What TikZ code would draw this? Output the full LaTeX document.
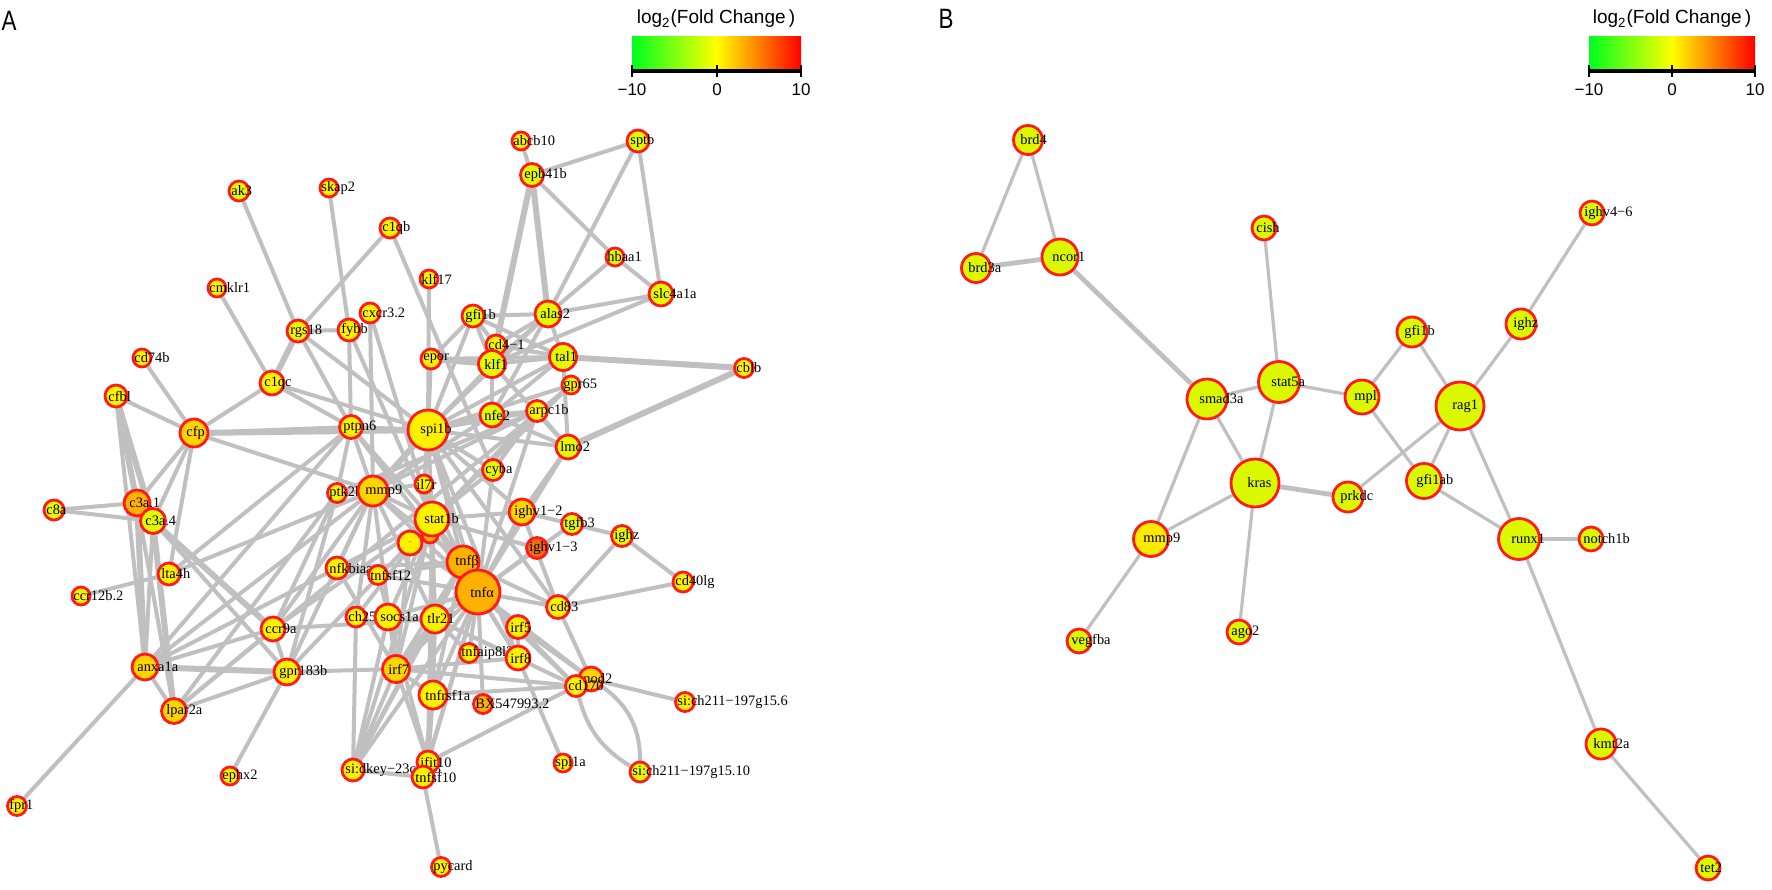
\documentclass[tikz,border=0pt]{standalone}
\usepackage{fontspec}
\setmainfont{Liberation Serif}
\newfontfamily\lsans{Liberation Sans}
\usetikzlibrary{backgrounds}
\definecolor{edgec}{HTML}{C0C0C0}
\definecolor{Y}{HTML}{FFF000}
\definecolor{GY}{HTML}{E4F800}
\definecolor{GD}{HTML}{FFD400}
\definecolor{OR}{HTML}{FFB000}
\definecolor{DO}{HTML}{EC6E14}
\definecolor{BY}{HTML}{DCF800}
\definecolor{BYY}{HTML}{FFEA00}
\definecolor{ringred}{HTML}{FF1A1A}
\definecolor{lgreen}{HTML}{00FF20}
\tikzset{
 gnode/.style={circle, draw=ringred, line width=1.4pt, inner sep=0pt, outer sep=0pt},
 glab/.style={anchor=west, inner sep=0pt, font=\fontsize{7.2}{8}\selectfont},
 e/.style={draw=edgec, line width=2pt},
 et/.style={draw=edgec, line width=3pt},
 eb/.style={draw=edgec, line width=1.6pt},
 ebt/.style={draw=edgec, line width=2.4pt},
 legtitle/.style={font=\lsans\fontsize{9.5}{10}\selectfont},
 legnum/.style={font=\lsans\fontsize{8.5}{10}\selectfont},
 panel/.style={font=\lsans\fontsize{14}{16}\selectfont, xscale=0.8},
}
\newcommand\gn[6]{%
 \node[gnode, minimum size=#4pt, fill=#5] (#1) at (#2,#3) {};
 \node[glab] (#1-l) at ([xshift=-4pt]#1.center) {#6};}
\begin{document}
\begin{tikzpicture}[x=0.5pt,y=-0.5pt]
\useasboundingbox (0,0) rectangle (1772,889);
% ---------- panel letters and legends
\node[panel] (pA) at (9,21) {A};
\node[panel] (pB) at (946,19) {B};
\node[legtitle] (tA) at (716,19) {log\textsubscript{2}(Fold Change\,)};
\shade[left color=lgreen, right color=red, middle color=yellow] (632,36) rectangle (801,68);
\draw[line width=1.6pt] (632,71) -- (801,71);
\draw[line width=1.2pt] (632,65) -- (632,77) (717,65) -- (717,77) (801,65) -- (801,77);
\node[legnum] (nA1) at (632,90) {−10};
\node[legnum] (nA2) at (717,90) {0};
\node[legnum] (nA3) at (801,90) {10};
\node[legtitle] (tB) at (1672,19) {log\textsubscript{2}(Fold Change\,)};
\shade[left color=lgreen, right color=red, middle color=yellow] (1589,36) rectangle (1755,68);
\draw[line width=1.6pt] (1589,71) -- (1755,71);
\draw[line width=1.2pt] (1589,65) -- (1589,77) (1672,65) -- (1672,77) (1755,65) -- (1755,77);
\node[legnum] (nB1) at (1589,90) {−10};
\node[legnum] (nB2) at (1672,90) {0};
\node[legnum] (nB3) at (1755,90) {10};
% ---------- panel A nodes
\gn{abcb10}{521}{141}{9}{Y}{abcb10}
\gn{sptb}{638}{141}{11}{GY}{sptb}
\gn{epb41b}{532}{175}{11.5}{GY}{epb41b}
\gn{ak3}{239}{191}{10}{GY}{ak3}
\gn{skap2}{329}{188}{9}{Y}{skap2}
\gn{c1qb}{390}{228}{10}{Y}{c1qb}
\gn{hbaa1}{615}{257}{9}{GY}{hbaa1}
\gn{klf17}{429}{279}{9}{Y}{klf17}
\gn{cmklr1}{217}{288}{9}{Y}{cmklr1}
\gn{cxcr32}{370}{313}{10}{Y}{cxcr3.2}
\gn{slc4a1a}{661}{294}{12}{GY}{slc4a1a}
\gn{gfi1b}{473}{316}{11}{GY}{gfi1b}
\gn{alas2}{548}{314}{13}{GY}{alas2}
\gn{rgs18}{298}{331}{11}{Y}{rgs18}
\gn{fybb}{349}{330}{11}{Y}{fybb}
\gn{cd41}{496}{345}{10}{Y}{cd4−1}
\gn{tal1}{563}{357}{13.5}{GY}{tal1}
\gn{cd74b}{142}{358}{9}{Y}{cd74b}
\gn{epor}{431}{359}{10}{Y}{epor}
\gn{klf1}{492}{364}{13.5}{GY}{klf1}
\gn{cblb}{744}{368}{9.5}{Y}{cblb}
\gn{c1qc}{272}{383}{12}{Y}{c1qc}
\gn{gpr65}{571}{385}{9}{Y}{gpr65}
\gn{cfbl}{116}{396}{11}{Y}{cfbl}
\gn{cfp}{194}{433}{14}{GD}{cfp}
\gn{ptpn6}{351}{427}{11.5}{Y}{ptpn6}
\gn{spi1b}{428}{430}{20}{Y}{spi1b}
\gn{nfe2}{492}{415}{12}{GY}{nfe2}
\gn{arpc1b}{537}{411}{10.5}{Y}{arpc1b}
\gn{lmo2}{568}{447}{12}{GY}{lmo2}
\gn{cyba}{493}{470}{10.5}{GY}{cyba}
\gn{c3a1}{137}{503}{13}{OR}{c3a.1}
\gn{c8a}{54}{510}{10}{GY}{c8a}
\gn{c3a4}{153}{521}{12.5}{GY}{c3a.4}
\gn{ptk2bb}{337}{493}{9.5}{Y}{ptk2bb}
\gn{mmp9}{373}{491}{15}{GD}{mmp9}
\gn{il7r}{424}{484}{9}{Y}{il7r}
\node[gnode, minimum size=8pt, fill=OR] (smb) at (430,535) {};
\node[inner sep=0pt, font=\fontsize{2.5}{3}\selectfont] (smb-l) at (432,532) {–};
\gn{stat1b}{432}{519}{17}{Y}{stat1b}
\node[gnode, minimum size=12pt, fill=Y] (sma) at (410,543) {};
\node[inner sep=0pt, font=\fontsize{2.5}{3}\selectfont] (sma-l) at (410,543) {–};
\gn{ighv12}{522}{512}{13}{GD}{ighv1−2}
\gn{tgfb3}{572}{524}{10.5}{GY}{tgfb3}
\gn{ighz}{622}{536}{10.5}{GY}{ighz}
\gn{ighv13}{537}{548}{10.5}{DO}{ighv1−3}
\gn{tnfb}{463}{562}{16}{OR}{tnfβ}
\gn{tnfa}{478}{592}{22}{OR}{tnfα}
\gn{lta4h}{169}{574}{11}{Y}{lta4h}
\gn{nfkbiaa}{337}{568}{11}{Y}{nfkbiaa}
\gn{tnfsf12}{378}{575}{9.5}{Y}{tnfsf12}
\gn{cd40lg}{683}{582}{10}{Y}{cd40lg}
\gn{ccr12b2}{81}{596}{9}{Y}{ccr12b.2}
\gn{cd83}{558}{607}{11.5}{Y}{cd83}
\gn{ccr9a}{273}{629}{12}{Y}{ccr9a}
\gn{ch25h}{356}{617}{10}{Y}{ch25h}
\gn{socs1a}{388}{617}{13}{Y}{socs1a}
\gn{tlr21}{435}{619}{14}{Y}{tlr21}
\gn{irf5}{518}{627}{11.5}{Y}{irf5}
\gn{anxa1a}{145}{667}{13}{GD}{anxa1a}
\gn{gpr183b}{287}{672}{13}{Y}{gpr183b}
\gn{irf7}{396}{669}{13.5}{GD}{irf7}
\gn{tnfaip}{469}{653}{9.5}{Y}{tnfaip8l2b}
\gn{irf8}{518}{658}{12}{Y}{irf8}
\gn{nod2}{591}{679}{12}{GD}{nod2}
\gn{cd170}{576}{686}{10.5}{Y}{cd170}
\gn{lpar2a}{174}{711}{12.5}{GD}{lpar2a}
\gn{tnfrsf1a}{433}{695}{14}{Y}{tnfrsf1a}
\gn{bx}{483}{704}{9.5}{OR}{BX547993.2}
\gn{sich6}{685}{702}{9.5}{Y}{si:ch211−197g15.6}
\gn{sidkey}{353}{770}{11}{Y}{si:dkey−23c22.3}
\gn{ifit10}{428}{762}{11}{Y}{ifit10}
\gn{tnfsf10}{423}{777}{11}{Y}{tnfsf10}
\gn{spi1a}{563}{763}{9}{Y}{spi1a}
\gn{sich10}{640}{772}{10}{GY}{si:ch211−197g15.10}
\gn{ephx2}{230}{776}{9}{Y}{ephx2}
\gn{fpr1}{17}{806}{9.5}{Y}{fpr1}
\gn{pycard}{441}{867}{9.5}{Y}{pycard}
% ---------- panel B nodes
\gn{Bbrd4}{1028}{140}{14.5}{BY}{brd4}
\gn{Bbrd3a}{976}{268}{14.5}{BY}{brd3a}
\gn{Bncor1}{1060}{257}{18}{BY}{ncor1}
\gn{Bcish}{1264}{228}{12}{BY}{cish}
\gn{Bighv46}{1592}{213}{12}{BY}{ighv4−6}
\gn{Bighz}{1521}{324}{15}{BY}{ighz}
\gn{Bgfi1b}{1412}{332}{15}{BY}{gfi1b}
\gn{Bstat5a}{1279}{382}{20.5}{BY}{stat5a}
\gn{Bsmad3a}{1207}{399}{20}{BY}{smad3a}
\gn{Bmpl}{1362}{397}{17}{BY}{mpl}
\gn{Brag1}{1460}{406}{24}{BY}{rag1}
\gn{Bkras}{1255}{483}{24}{BY}{kras}
\gn{Bprkdc}{1348}{497}{15}{BY}{prkdc}
\gn{Bgfi1ab}{1424}{481}{17.5}{BY}{gfi1ab}
\gn{Bmmp9}{1151}{539}{17.5}{BYY}{mmp9}
\gn{Brunx1}{1519}{539}{20.5}{BY}{runx1}
\gn{Bnotch1b}{1591}{539}{12}{BY}{notch1b}
\gn{Bvegfba}{1079}{641}{12}{BY}{vegfba}
\gn{Bago2}{1239}{632}{12}{BY}{ago2}
\gn{Bkmt2a}{1601}{744}{15}{BY}{kmt2a}
\gn{Btet2}{1708}{868}{12}{BY}{tet2}
% ---------- edges
\begin{scope}[on background layer]
\fill[white] (0,0) rectangle (1772,889);
\foreach \a/\b in {epb41b/alas2, epb41b/klf1, klf1/epor, cfp/spi1b, rgs18/c1qc,
  c3a4/ccr9a, cfbl/c3a1, cfbl/c3a4, anxa1a/gpr183b, tal1/cblb, lmo2/cblb,
  spi1b/mmp9, stat1b/tnfa, tnfa/tnfb, c3a1/anxa1a, c3a4/lpar2a}
  \draw[et] (\a) -- (\b);
\foreach \a/\b in {abcb10/epb41b, epb41b/sptb, epb41b/hbaa1, sptb/alas2, sptb/slc4a1a,
  hbaa1/slc4a1a, hbaa1/alas2, slc4a1a/alas2, slc4a1a/klf1, alas2/klf1, alas2/tal1,
  alas2/gfi1b, alas2/cd41, alas2/nfe2, alas2/spi1b, gfi1b/klf1, gfi1b/tal1, gfi1b/spi1b,
  gfi1b/cd41, gfi1b/epor, klf1/tal1, klf1/nfe2, klf1/lmo2, klf1/spi1b, klf1/cd41,
  tal1/lmo2, tal1/epor, tal1/spi1b, tal1/nfe2, tal1/cd41, lmo2/spi1b, lmo2/nfe2,
  lmo2/arpc1b, lmo2/ighv12, lmo2/tnfa, nfe2/spi1b, epor/spi1b, klf17/spi1b,
  c1qb/rgs18, c1qb/cyba, skap2/fybb, ak3/rgs18, cmklr1/c1qc, rgs18/fybb, rgs18/spi1b,
  rgs18/ptpn6, fybb/ptpn6, fybb/stat1b, cxcr32/stat1b, cxcr32/mmp9, c1qc/cfp,
  c1qc/ptpn6, c1qc/spi1b, cd74b/cfp, cfbl/cfp, cfbl/anxa1a, cfp/ptpn6, cfp/mmp9,
  cfp/c3a1, cfp/c3a4, cfp/lta4h, c8a/c3a1, c8a/c3a4, c3a1/lpar2a, c3a4/anxa1a,
  c3a4/gpr183b, lta4h/ccr12b2, lta4h/ptpn6, lta4h/mmp9, ptpn6/spi1b, ptpn6/mmp9,
  ptpn6/ptk2bb, ptpn6/tnfa, ptpn6/stat1b, spi1b/stat1b, spi1b/il7r, spi1b/tnfb,
  spi1b/tnfa, spi1b/cyba, spi1b/ighv12, spi1b/arpc1b, spi1b/tlr21, spi1b/cd83,
  spi1b/irf8, spi1b/gpr65, arpc1b/cyba, arpc1b/tnfa, arpc1b/mmp9, arpc1b/ptk2bb,
  arpc1b/gpr183b, arpc1b/nfe2, gpr65/lpar2a, gpr65/stat1b, nfe2/mmp9, cyba/tnfa,
  cyba/stat1b, ighv12/tnfa, ighv12/stat1b, ighv12/tgfb3, ighv12/cd83, ighv13/tnfa,
  ighv13/stat1b, tgfb3/ighz, tgfb3/tnfa, ighz/cd83, ighz/cd40lg, cd40lg/cd83,
  cd83/tnfa, cd83/nod2, cd83/tnfb, mmp9/stat1b, mmp9/tnfa, mmp9/tnfb, mmp9/il7r,
  mmp9/nfkbiaa, mmp9/tlr21, mmp9/irf7, mmp9/ptk2bb, mmp9/gpr183b, mmp9/anxa1a,
  mmp9/ccr9a, mmp9/ch25h, ptk2bb/lpar2a, ptk2bb/gpr183b, il7r/stat1b, il7r/tnfa,
  stat1b/tnfb, stat1b/irf7, stat1b/socs1a, stat1b/tlr21, stat1b/irf8, stat1b/nfkbiaa,
  stat1b/ifit10, stat1b/sidkey, stat1b/sma, sma/smb, sma/tnfa, sma/irf7, smb/tnfb,
  tnfa/irf5, tnfa/irf7, tnfa/tnfrsf1a, tnfa/cd170, tnfa/nod2, tnfa/bx, tnfa/nfkbiaa,
  tnfa/socs1a, tnfa/tlr21, tnfa/sidkey, tnfa/ifit10, tnfa/irf8, tnfa/tnfaip,
  tnfa/tnfsf10, tnfb/irf7, tnfb/tlr21, tnfb/tnfrsf1a, tnfb/sidkey, tnfb/nfkbiaa,
  tnfb/tnfsf12, tlr21/irf7, tlr21/sidkey, tlr21/tnfrsf1a, tlr21/socs1a, tlr21/ifit10,
  tlr21/irf8, tlr21/cd170, tlr21/tnfaip, irf7/gpr183b, irf7/sidkey, irf7/ifit10,
  irf7/tnfrsf1a, irf7/cd170, irf7/irf8, irf7/nfkbiaa, sidkey/tnfsf10, sidkey/ch25h,
  sidkey/socs1a, tnfsf10/pycard, tnfsf10/tnfrsf1a, tnfsf12/ifit10, ifit10/cd170,
  ifit10/tnfrsf1a, nod2/sich6, nod2/irf5, cd170/irf5, cd170/tnfrsf1a, irf8/spi1a,
  nfkbiaa/anxa1a, nfkbiaa/tnfsf12, anxa1a/lpar2a, anxa1a/ccr9a, anxa1a/fpr1,
  anxa1a/ptpn6, lpar2a/gpr183b, lpar2a/ccr9a, gpr183b/ccr9a, gpr183b/ephx2,
  ccr9a/tlr21, ccr9a/ptk2bb, ccr9a/stat1b, ch25h/stat1b, irf5/irf8}
  \draw[e] (\a) -- (\b);
\draw[e] (nod2) to[bend left=28] (sich10);
\draw[e] (cd170) to[bend right=22] (sich10);
% panel B edges
\foreach \a/\b in {Bbrd4/Bbrd3a, Bbrd4/Bncor1, Bcish/Bstat5a, Bsmad3a/Bstat5a,
  Bstat5a/Bmpl, Bstat5a/Bkras, Bsmad3a/Bkras, Bsmad3a/Bmmp9, Bkras/Bmmp9,
  Bkras/Bago2, Bmmp9/Bvegfba, Bmpl/Bgfi1b, Bmpl/Bgfi1ab, Bgfi1b/Brag1,
  Bighz/Brag1, Bighz/Bighv46, Brag1/Bprkdc, Brag1/Bgfi1ab, Brag1/Brunx1,
  Bgfi1ab/Brunx1, Brunx1/Bkmt2a, Bkmt2a/Btet2}
  \draw[eb] (\a) -- (\b);
\foreach \a/\b in {Bbrd3a/Bncor1, Bncor1/Bsmad3a, Bkras/Bprkdc, Brunx1/Bnotch1b}
  \draw[ebt] (\a) -- (\b);
\end{scope}
\end{tikzpicture}
\end{document}
